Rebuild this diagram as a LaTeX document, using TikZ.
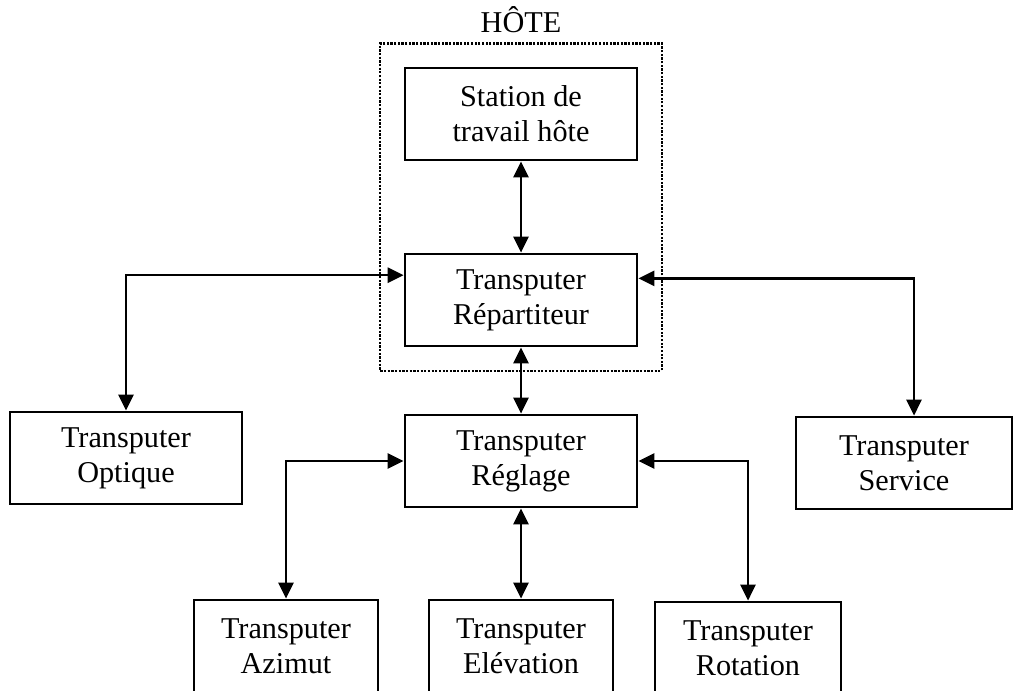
\documentclass[tikz,border=0pt]{standalone}
\usepackage{fontspec}
\setmainfont{Liberation Serif}
\usetikzlibrary{arrows.meta,fit}

\tikzset{
  block/.style={draw, line width=2pt, minimum height=2.3cm, align=center,
    font=\fontsize{21.5}{25}\selectfont},
  link/.style={arrows={Triangle[length=4mm,width=3.8mm]-Triangle[length=4mm,width=3.8mm]},
    line width=1.6pt},
}

\begin{document}
\begin{tikzpicture}[x=0.025cm, y=-0.025cm]
\clip (0,0) rectangle (1016,690);
\node[block, minimum width=5.8cm] at (521,114) (station) {Station de\\travail hôte};
\node[block, minimum width=5.8cm] at (521,300) (repart) {Transputer\\Répartiteur};
\node[block, minimum width=5.8cm] at (521,461) (reglage) {Transputer\\Réglage};
\node[block, minimum width=5.8cm] at (126,458) (optique) {Transputer\\Optique};
\node[block, minimum width=5.4cm] at (904,463) (service) {Transputer\\Service};
\node[block, minimum width=4.6cm] at (286,646) (azimut) {Transputer\\Azimut};
\node[block, minimum width=4.6cm] at (521,646) (elevation) {Transputer\\Elévation};
\node[block, minimum width=4.65cm] at (748,648) (rotation) {Transputer\\Rotation};
%host frame
\node[draw, densely dotted, line width=1.6pt, inner xsep=0.58cm, inner ysep=0.58cm,
  fit=(station)(repart)] (hote) {};
\node[anchor=south, inner ysep=0.22cm, font=\fontsize{21.5}{25}\selectfont]
  at (hote.north) (hotelabel) {HÔTE};
\draw[link] (station) -- (repart);
\draw[link] (repart) -- (reglage);
\draw[link] ([yshift=0.62cm]repart.west) -| (optique.north);
\draw[link] ([yshift=0.54cm]repart.east) -| ([xshift=0.25cm]service.north);
\draw[link] (reglage.west) -| (azimut.north);
\draw[link] (reglage) -- (elevation);
\draw[link] (reglage.east) -| (rotation.north);
\end{tikzpicture}
\end{document}
